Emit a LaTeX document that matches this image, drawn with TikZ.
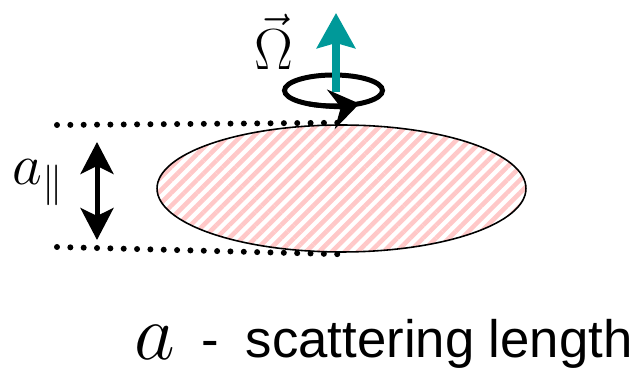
\RequirePackage{fix-cm}
\documentclass[tikz,border=0pt]{standalone}
\usepackage{fontspec}
\setsansfont{Liberation Sans}
\usepackage{tikz}
\usetikzlibrary{arrows.meta, shapes.geometric, patterns.meta, positioning}
\definecolor{spinteal}{RGB}{0, 153, 153}
\definecolor{drophatch}{RGB}{255, 200, 200}

\begin{document}
\begin{tikzpicture}[
    x=0.02cm, y=-0.02cm,
    dropnode/.style={ellipse, draw=black, line width=0.9pt, minimum width=7.38cm, minimum height=2.54cm, inner sep=0pt, pattern={Lines[angle=45, distance=5.2pt, line width=2.6pt]}, pattern color=drophatch},
    dotline/.style={line width=0.12cm, line cap=round, dash pattern=on 0pt off 0.267cm},
    sizearrow/.style={arrows={Stealth[length=0.64cm, width=0.66cm, inset=0.16cm]-Stealth[length=0.64cm, width=0.66cm, inset=0.16cm]}, line width=0.1cm},
    spinarrow/.style={-{Stealth[length=0.7cm, width=0.76cm, inset=0.1cm]}, line width=0.16cm, spinteal},
    ringline/.style={line width=0.1cm},
    ringtip/.style={-{Stealth[length=0.58cm, width=0.8cm, inset=0.2cm]}, line width=0.1cm},
    mathlabel/.style={inner sep=0pt, font=\fontsize{33}{40}\selectfont}
]
    \useasboundingbox (0, 0) rectangle (639, 377);

    % Scattering region
    \node[dropnode] (drop) at (341.5, 188.5) {};

    % Dotted guides
    \coordinate (topguide) at (57, 125);
    \coordinate (botguide) at (57, 247);
    \draw[dotline] (topguide) -- (drop.north);
    \draw[dotline] (botguide) -- (drop.south);

    % Size arrow and label
    \coordinate (sizetop) at (97, 142);
    \coordinate (sizebot) at (97, 240);
    \draw[sizearrow] (sizetop) -- (sizebot);
    \node[mathlabel, anchor=base west] (alabel) at (12, 185) {$a_\parallel$};

    % Rotation
    \coordinate (ringc) at (333.5, 90.5);
    \draw[ringline] (ringc) ellipse [x radius=0.98cm, y radius=0.31cm];
    \coordinate (spinbase) at (336, 92);
    \coordinate (spintip) at (336, 13);
    \draw[spinarrow] (spinbase) -- (spintip);
    \draw[ringtip] (ringc) ++(240:0.98cm and 0.31cm) arc[start angle=240, end angle=302, x radius=0.98cm, y radius=0.31cm];
    \node[mathlabel, anchor=base] (omega) at (273.5, 70) {$\vec{\Omega}$};

    % Legend
    \node[inner sep=0pt, anchor=base west, font=\fontsize{45}{54}\selectfont] (ascat) at (134, 360) {$a$};
    \node[inner sep=0pt, anchor=base east, font=\sffamily\fontsize{30}{36}\selectfont] (scatlabel) at (633, 358) {-\hspace{0.5em}scattering length};
\end{tikzpicture}
\end{document}
